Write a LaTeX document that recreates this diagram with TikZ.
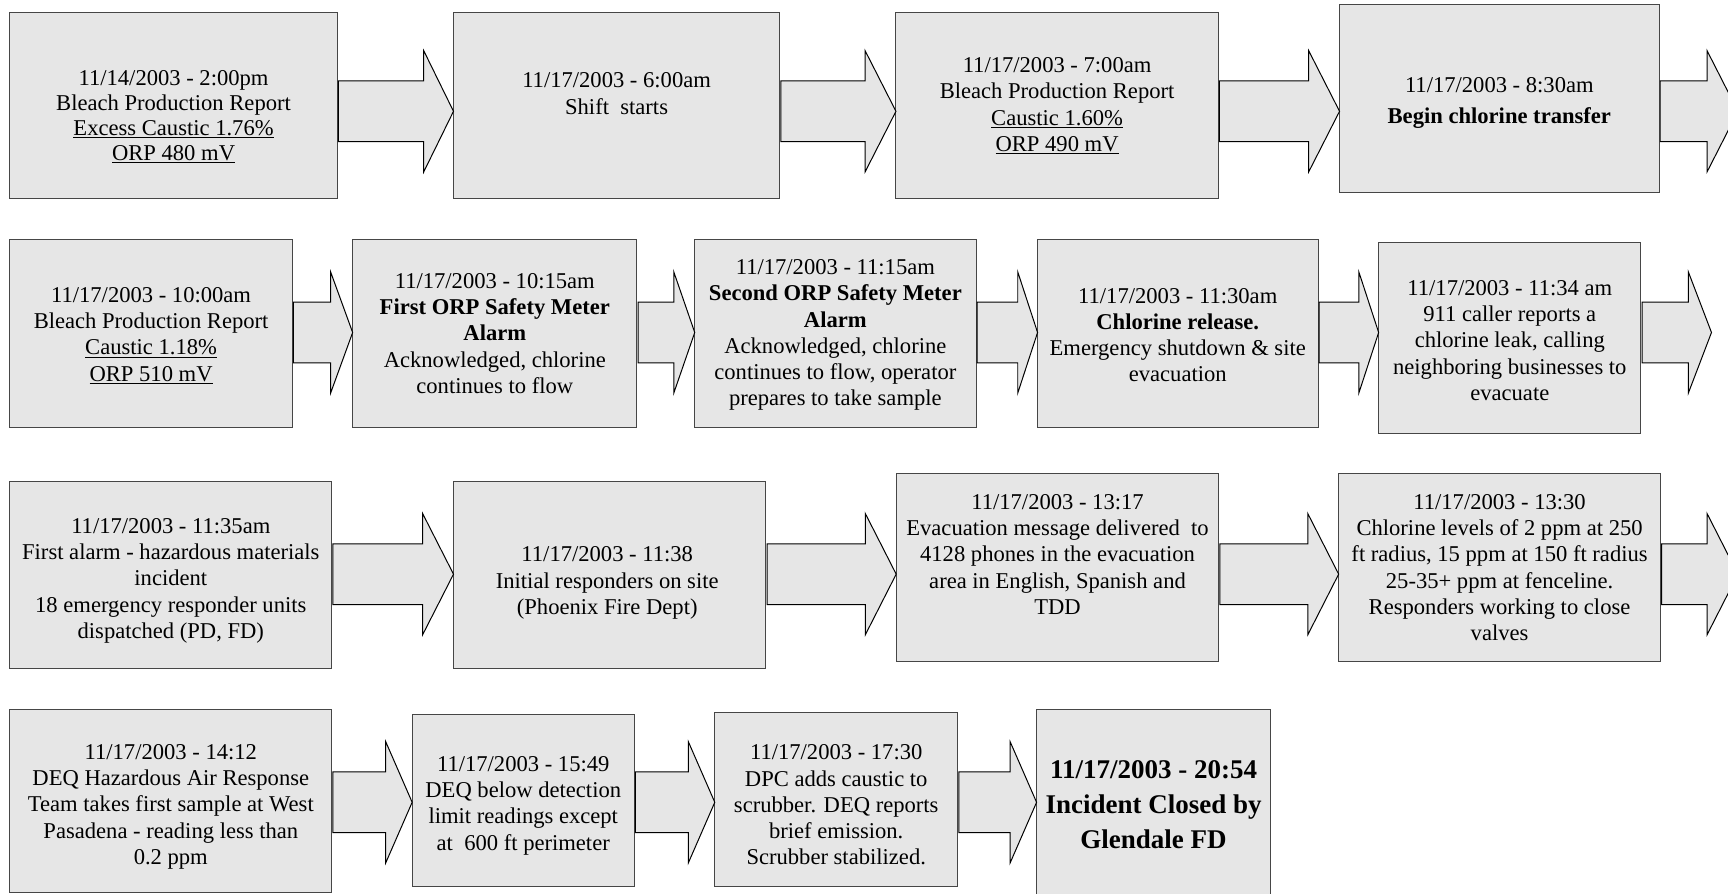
\documentclass[tikz,border=0pt]{standalone}
\usepackage{fontspec}
\setmainfont{Liberation Serif}
\usetikzlibrary{calc}
\definecolor{boxfill}{RGB}{230,230,230}
\definecolor{boxline}{RGB}{70,70,70}
\tikzset{
  evbox/.style={draw=boxline, line width=0.9pt, fill=boxfill, rectangle, inner sep=0pt, outer sep=0pt},
  evtext/.style={align=center, inner sep=0pt, font=\fontsize{20.5}{23.8}\selectfont},
  evtight/.style={align=center, inner sep=0pt, font=\fontsize{20.5}{22.5}\selectfont},
  bigtext/.style={align=center, inner sep=0pt, font=\fontsize{24.5}{31.5}\selectfont\bfseries},
  flow/.style={draw=black, line width=0.9pt, fill=boxfill, line join=miter},
}
% name, x1, y1, x2, y2 (y measured downward)
\newcommand\ebox[5]{\node[evbox, minimum width={(#4-#2)*1pt}, minimum height={(#5-#3)*1pt}] (#1) at ({(#2+#4)/2},{-(#3+#5)/2}) {};}
% from point, to point, centre y, head length
\newcommand\flowarrow[4]{%
  \draw[flow] let \p1=(#1), \p2=(#2) in
    (\x1+1pt,-#3+27.6) -- (\x2-#4pt,-#3+27.6) -- (\x2-#4pt,-#3+55) -- (\x2,-#3)
    -- (\x2-#4pt,-#3-55) -- (\x2-#4pt,-#3-27.6) -- (\x1+1pt,-#3-27.6) -- cycle;}
\begin{document}
\begin{tikzpicture}[x=1pt,y=1pt]
\useasboundingbox (0,0) rectangle (1568,-811);
\clip (0,0) rectangle (1568,-811);
% row 1
\ebox{b1}{9}{11}{306}{180}
\ebox{b2}{411.5}{11}{707.6}{180}
\ebox{b3}{813}{11}{1105.4}{180}
\ebox{b4}{1215.5}{4}{1505.5}{174.5}
\coordinate (e1) at (1577,-101);
% row 2
\ebox{b5}{8.9}{217}{265.3}{387.8}
\ebox{b6}{320}{217}{578}{387.8}
\ebox{b7}{630.4}{217}{885.7}{387.8}
\ebox{b8}{941.5}{217}{1196}{387.8}
\ebox{b9}{1251}{220}{1489}{393}
\coordinate (e2) at (1553,-301.7);
% row 3
\ebox{b10}{8.9}{436.5}{301}{606.4}
\ebox{b11}{411.5}{436.5}{695}{606.4}
\ebox{b12}{813.2}{430}{1106}{600}
\ebox{b13}{1214.7}{430}{1506.7}{600}
\coordinate (e3) at (1577,-521);
% row 4
\ebox{b14}{9}{643.4}{301}{809.5}
\ebox{b15}{374}{648}{575.6}{804}
\ebox{b16}{648.6}{646.7}{869}{804}
\ebox{b17}{940.6}{643.4}{1152.7}{815}

% texts
\node[evtight] (t1) at (157.5,-106) {11/14/2003 - 2:00pm\\Bleach Production Report\\\underline{Excess Caustic 1.76\%}\\\underline{ORP 480 mV}};
\node[evtext] (t2) at (559.5,-85) {11/17/2003 - 6:00am\\Shift\ \ starts};
\node[evtext] (t3) at (959.2,-96) {11/17/2003 - 7:00am\\Bleach Production Report\\\underline{Caustic 1.60\%}\\\underline{ORP 490 mV}};
\node[evtext] (t4) at (1360.5,-93.5) {11/17/2003 - 8:30am\\[5pt]\textbf{Begin chlorine transfer}};
\node[evtext] (t5) at (137.1,-304.5) {11/17/2003 - 10:00am\\Bleach Production Report\\\underline{Caustic 1.18\%}\\\underline{ORP 510 mV}};
\node[evtext] (t6) at (449,-302.5) {11/17/2003 - 10:15am\\\textbf{First ORP Safety Meter}\\\textbf{Alarm}\\Acknowledged, chlorine\\continues to flow};
\node[evtext] (t7) at (758,-304) {11/17/2003 - 11:15am\\\textbf{Second ORP Safety Meter}\\\textbf{Alarm}\\Acknowledged, chlorine\\continues to flow, operator\\prepares to take sample};
\node[evtext] (t8) at (1068.7,-304) {11/17/2003 - 11:30am\\\textbf{Chlorine release.}\\Emergency shutdown \& site\\evacuation};
\node[evtext] (t9) at (1370,-309) {11/17/2003 - 11:34 am\\911 caller reports a\\chlorine leak, calling\\neighboring businesses to\\evacuate};
\node[evtext] (t10) at (155,-527) {11/17/2003 - 11:35am\\First alarm - hazardous materials\\incident\\18 emergency responder units\\dispatched (PD, FD)};
\node[evtext] (t11) at (551,-529) {11/17/2003 - 11:38\\Initial responders on site\\(Phoenix Fire Dept)};
\node[evtext] (t12) at (959.6,-503) {11/17/2003 - 13:17\\Evacuation message delivered\ \ to\\4128 phones in the evacuation\\area in English, Spanish and\\TDD};
\node[evtext] (t13) at (1360.7,-515) {11/17/2003 - 13:30\\Chlorine levels of 2 ppm at 250\\ft radius, 15 ppm at 150 ft radius\\25-35+ ppm at fenceline.\\Responders working to close\\valves};
\node[evtext] (t14) at (155,-732) {11/17/2003 - 14:12\\DEQ Hazardous Air Response\\Team takes first sample at West\\Pasadena - reading less than\\0.2 ppm};
\node[evtext] (t15) at (474.8,-731) {11/17/2003 - 15:49\\DEQ below detection\\limit readings except\\at\ \ 600 ft perimeter};
\node[evtext] (t16) at (758.8,-730.5) {11/17/2003 - 17:30\\DPC adds caustic to\\scrubber. DEQ reports\\brief emission.\\Scrubber stabilized.};
\node[bigtext] (t17) at (1046.7,-730) {11/17/2003 - 20:54\\Incident Closed by\\Glendale FD};

% arrows
\flowarrow{b1.east}{b2.west}{101}{27}
\flowarrow{b2.east}{b3.west}{101}{28}
\flowarrow{b3.east}{b4.west}{101}{28}
\flowarrow{b4.east}{e1}{101}{28}
\flowarrow{b5.east}{b6.west}{301.7}{20}
\flowarrow{b6.east}{b7.west}{301.7}{19}
\flowarrow{b7.east}{b8.west}{301.7}{18}
\flowarrow{b8.east}{b9.west}{301.7}{18}
\flowarrow{b9.east}{e2}{301.7}{21}
\flowarrow{b10.east}{b11.west}{521}{28}
\flowarrow{b11.east}{b12.west}{521}{28}
\flowarrow{b12.east}{b13.west}{521}{28}
\flowarrow{b13.east}{e3}{521}{28}
\flowarrow{b14.east}{b15.west}{728}{24}
\flowarrow{b15.east}{b16.west}{728}{24}
\flowarrow{b16.east}{b17.west}{728}{24}
\end{tikzpicture}
\end{document}
